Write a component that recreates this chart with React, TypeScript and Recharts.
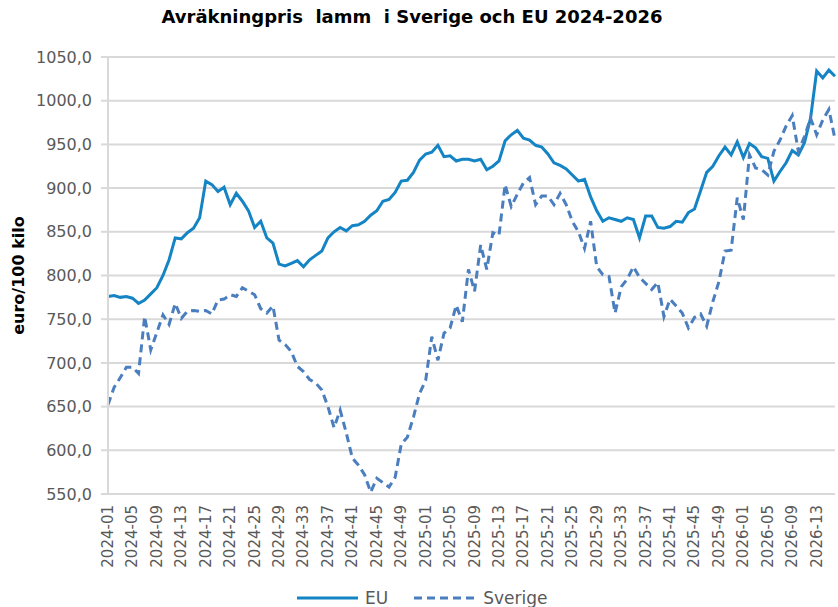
import { CartesianGrid, Line, LineChart, XAxis, YAxis } from "recharts";

// ISO weeks 2024-01 .. 2026-16
const WEEKS: string[] = [];
for (const [year, count] of [
  [2024, 52],
  [2025, 52],
  [2026, 16],
] as const) {
  for (let w = 1; w <= count; w++) WEEKS.push(`${year}-${String(w).padStart(2, "0")}`);
}

// euro/100 kilo
const EU = [
  776, 777, 775, 776, 774, 768, 772, 779, 786, 800,
  818, 843, 842, 849, 854, 866, 908, 904, 896, 901,
  881, 894, 885, 874, 855, 862, 843, 837, 813, 811,
  814, 817, 810, 818, 823, 828, 843, 850, 855, 851,
  857, 858, 862, 869, 874, 885, 887, 895, 908, 909,
  918, 932, 939, 941, 949, 936, 937, 931, 933, 933,
  931, 933, 921, 925, 931, 954, 961, 966, 957, 955,
  949, 947, 939, 929, 926, 922, 915, 908, 910, 890,
  874, 862, 866, 864, 862, 866, 864, 843, 868, 868,
  855, 854, 856, 862, 861, 872, 876, 897, 918, 925,
  937, 947, 938, 953, 935, 951, 946, 936, 934, 908,
  919, 929, 943, 938, 952, 980, 1034, 1026, 1035, 1028,
];

const SVERIGE = [
  652, 672, 683, 695, 695, 688, 753, 715, 735, 755,
  744, 768, 751, 759, 760, 759, 760, 756, 772, 773,
  778, 776, 786, 782, 778, 762, 757, 765, 726, 721,
  713, 696, 690, 681, 677, 669, 650, 626, 646, 620,
  591, 583, 572, 552, 568, 563, 558, 569, 607, 615,
  638, 665, 680, 730, 703, 734, 740, 766, 747, 807,
  782, 835, 807, 849, 846, 904, 879, 893, 906, 912,
  881, 891, 891, 881, 894, 881, 862, 850, 831, 862,
  810, 801, 799, 757, 787, 796, 810, 798, 791, 784,
  792, 753, 773, 765, 757, 740, 752, 756, 742, 770,
  793, 828, 829, 889, 864, 938, 923, 921, 915, 942,
  955, 971, 983, 942, 959, 980, 961, 978, 990, 956,
];

const Y_TICKS = [550, 600, 650, 700, 750, 800, 850, 900, 950, 1000, 1050];

const EU_COLOR = "#1584c4";
const SE_COLOR = "#4a7ebf";
const GRID = "#d9d9d9";
const TEXT = "#595959";
const FONT = "'DejaVu Sans', sans-serif";

const data = WEEKS.map((week, i) => ({ week, eu: EU[i], sverige: SVERIGE[i] }));

function WeekTick({ x, y, payload }: any) {
  return (
    <text
      x={x}
      y={y}
      transform={`rotate(-90 ${x} ${y})`}
      textAnchor="end"
      dominantBaseline="central"
      fill={TEXT}
      fontSize={15}
      fontFamily={FONT}
    >
      {payload.value}
    </text>
  );
}

export default function App() {
  return (
    <div
      style={{
        position: "absolute",
        left: 0,
        top: 0,
        width: 838,
        height: 607,
        background: "#fff",
        fontFamily: FONT,
      }}
    >
      <div
        style={{
          position: "absolute",
          left: 0,
          top: 6,
          width: 824,
          textAlign: "center",
          fontWeight: "bold",
          fontSize: 18,
          lineHeight: "22px",
          whiteSpace: "pre",
          color: "#000",
        }}
      >
        {"Avräkningpris  lamm  i Sverige och EU 2024-2026"}
      </div>

      <LineChart
        width={838}
        height={607}
        data={data}
        margin={{ top: 57, right: 3, bottom: 0, left: 0 }}
      >
        <CartesianGrid vertical={false} stroke={GRID} strokeWidth={2} />
        <XAxis
          dataKey="week"
          interval={3}
          tickLine={false}
          tickSize={0}
          tickMargin={11}
          tick={<WeekTick />}
          height={113}
          axisLine={{ stroke: GRID, strokeWidth: 2 }}
        />
        <YAxis
          domain={[550, 1050]}
          ticks={Y_TICKS}
          width={108}
          tickSize={7}
          tickMargin={9}
          tickLine={{ stroke: GRID, strokeWidth: 2 }}
          axisLine={{ stroke: GRID, strokeWidth: 2 }}
          tick={{ fill: TEXT, fontSize: 16, fontFamily: FONT }}
          tickFormatter={(v: number) => v.toFixed(1).replace(".", ",")}
          label={{
            value: "euro/100 kilo",
            angle: -90,
            position: "insideLeft",
            offset: 18,
            textAnchor: "middle",
            fill: "#000",
            fontSize: 16,
            fontWeight: "bold",
            fontFamily: FONT,
          }}
        />
        <Line
          type="linear"
          dataKey="eu"
          name="EU"
          stroke={EU_COLOR}
          strokeWidth={3}
          dot={false}
          isAnimationActive={false}
        />
        <Line
          type="linear"
          dataKey="sverige"
          name="Sverige"
          stroke={SE_COLOR}
          strokeWidth={3}
          strokeDasharray="8 5"
          dot={false}
          isAnimationActive={false}
        />
      </LineChart>

      <div
        style={{
          position: "absolute",
          left: 297,
          top: 586,
          display: "flex",
          alignItems: "center",
          fontSize: 17,
          color: TEXT,
          lineHeight: "24px",
        }}
      >
        <svg width={62} height={10}>
          <line x1={0} y1={5} x2={61} y2={5} stroke={EU_COLOR} strokeWidth={3} />
        </svg>
        <span style={{ marginLeft: 6, marginRight: 26 }}>EU</span>
        <svg width={63} height={10}>
          <line x1={0} y1={5} x2={62} y2={5} stroke={SE_COLOR} strokeWidth={3} strokeDasharray="8 5" />
        </svg>
        <span style={{ marginLeft: 6 }}>Sverige</span>
      </div>
    </div>
  );
}
